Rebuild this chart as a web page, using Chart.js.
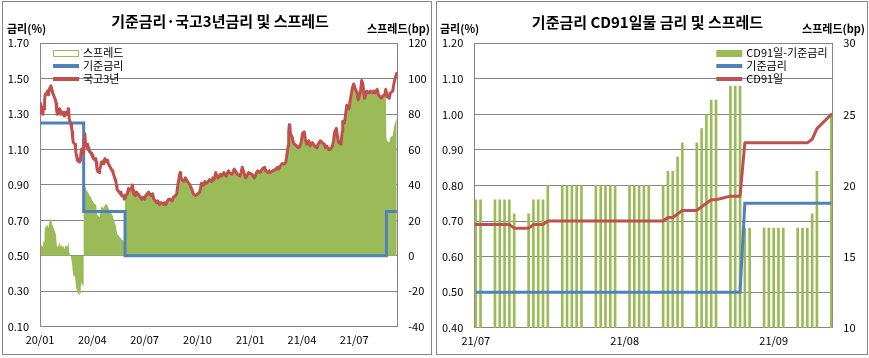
<!DOCTYPE html>
<html><head><meta charset="utf-8">
<script src="https://cdn.jsdelivr.net/npm/chart.js"></script>
<style>
html,body{margin:0;padding:0;background:#fff;}
#wrap{position:relative;width:869px;height:358px;overflow:hidden;background:#fff;}
.box{position:absolute;top:1px;border:1px solid #868686;background:#fff;}
#boxL{left:2px;width:428px;height:352px;}
#boxR{left:436px;width:430px;height:352px;}
canvas{display:block;}
</style></head><body>
<div id="wrap">
<div class="box" id="boxL"><canvas id="cL" width="428" height="352"></canvas></div>
<div class="box" id="boxR"><canvas id="cR" width="430" height="352"></canvas></div>
</div>
<script>
// ---------------- texts ----------------
const leftTitle = '기준금리·국고3년금리 및 스프레드';
const rightTitle = '기준금리 CD91일물 금리 및 스프레드';
const axisTitleLeft = '금리(%)';
const axisTitleRight = '스프레드(bp)';
const leftSeriesNames = ['스프레드', '기준금리', '국고3년'];
const rightSeriesNames = ['CD91일-기준금리', '기준금리', 'CD91일'];

// ---------------- left chart data ----------------
const ktbDates = [
'2020-01-02','2020-01-03','2020-01-06','2020-01-07','2020-01-08','2020-01-09','2020-01-10','2020-01-13','2020-01-14','2020-01-15','2020-01-16','2020-01-17','2020-01-20','2020-01-21','2020-01-22','2020-01-23','2020-01-28','2020-01-29','2020-01-30','2020-01-31',
'2020-02-03','2020-02-04','2020-02-05','2020-02-06','2020-02-07','2020-02-10','2020-02-11','2020-02-12','2020-02-13','2020-02-14','2020-02-17','2020-02-18','2020-02-19','2020-02-20','2020-02-21','2020-02-24','2020-02-25','2020-02-26','2020-02-27','2020-02-28',
'2020-03-02','2020-03-03','2020-03-04','2020-03-05','2020-03-06','2020-03-09','2020-03-10','2020-03-11','2020-03-12','2020-03-13','2020-03-16','2020-03-17','2020-03-18','2020-03-19','2020-03-20','2020-03-23','2020-03-24','2020-03-25','2020-03-26','2020-03-27','2020-03-30','2020-03-31',
'2020-04-01','2020-04-02','2020-04-03','2020-04-06','2020-04-07','2020-04-08','2020-04-09','2020-04-10','2020-04-13','2020-04-14','2020-04-16','2020-04-17','2020-04-20','2020-04-21','2020-04-22','2020-04-23','2020-04-24','2020-04-27','2020-04-28','2020-04-29',
'2020-05-04','2020-05-06','2020-05-07','2020-05-08','2020-05-11','2020-05-12','2020-05-13','2020-05-14','2020-05-15','2020-05-18','2020-05-19','2020-05-20','2020-05-21','2020-05-22','2020-05-25','2020-05-26','2020-05-27','2020-05-28','2020-05-29',
'2020-06-01','2020-06-03','2020-06-05','2020-06-08','2020-06-10','2020-06-11','2020-06-12','2020-06-15','2020-06-17','2020-06-19','2020-06-22','2020-06-24','2020-06-26','2020-06-29',
'2020-07-01','2020-07-03','2020-07-06','2020-07-08','2020-07-10','2020-07-13','2020-07-15','2020-07-17','2020-07-20','2020-07-22','2020-07-24','2020-07-27','2020-07-29','2020-07-31',
'2020-08-03','2020-08-05','2020-08-07','2020-08-10','2020-08-12','2020-08-14','2020-08-18','2020-08-20','2020-08-24','2020-08-26','2020-08-28','2020-08-31',
'2020-09-01','2020-09-02','2020-09-04','2020-09-08','2020-09-10','2020-09-14','2020-09-16','2020-09-18','2020-09-22','2020-09-24','2020-09-28',
'2020-10-05','2020-10-07','2020-10-08','2020-10-12','2020-10-14','2020-10-16','2020-10-20','2020-10-22','2020-10-26','2020-10-28','2020-10-30',
'2020-11-02','2020-11-04','2020-11-06','2020-11-10','2020-11-12','2020-11-16','2020-11-18','2020-11-20','2020-11-24','2020-11-26','2020-11-30',
'2020-12-02','2020-12-04','2020-12-08','2020-12-10','2020-12-14','2020-12-16','2020-12-18','2020-12-22','2020-12-24','2020-12-29',
'2021-01-04','2021-01-06','2021-01-08','2021-01-12','2021-01-14','2021-01-18','2021-01-20','2021-01-22','2021-01-26','2021-01-28',
'2021-02-01','2021-02-03','2021-02-05','2021-02-09','2021-02-15','2021-02-17','2021-02-19','2021-02-23','2021-02-25',
'2021-03-02','2021-03-04','2021-03-08','2021-03-09','2021-03-10','2021-03-11','2021-03-12','2021-03-15','2021-03-17','2021-03-19','2021-03-23','2021-03-25','2021-03-29','2021-03-31',
'2021-04-02','2021-04-05','2021-04-07','2021-04-09','2021-04-13','2021-04-15','2021-04-19','2021-04-21','2021-04-23','2021-04-27','2021-04-29',
'2021-05-03','2021-05-06','2021-05-10','2021-05-12','2021-05-14','2021-05-18','2021-05-20','2021-05-24','2021-05-26','2021-05-28','2021-05-31',
'2021-06-02','2021-06-04','2021-06-08','2021-06-10','2021-06-11','2021-06-14','2021-06-16','2021-06-18','2021-06-22','2021-06-24','2021-06-28','2021-06-30',
'2021-07-02','2021-07-06','2021-07-08','2021-07-12','2021-07-14','2021-07-16','2021-07-19','2021-07-21','2021-07-23','2021-07-27','2021-07-29',
'2021-08-02','2021-08-04','2021-08-06','2021-08-10','2021-08-12','2021-08-17','2021-08-19','2021-08-23','2021-08-25','2021-08-26','2021-08-27','2021-08-31',
'2021-09-02','2021-09-06','2021-09-08','2021-09-10','2021-09-13'
];
const ktb3y = [
1.36,1.31,1.30,1.34,1.33,1.38,1.41,1.42,1.43,1.41,1.42,1.44,1.46,1.45,1.43,1.42,1.38,1.36,1.32,1.30,
1.31,1.33,1.32,1.30,1.31,1.30,1.31,1.29,1.30,1.31,1.30,1.31,1.33,1.31,1.27,1.24,1.22,1.20,1.16,1.14,
1.13,1.10,1.07,1.06,1.04,1.03,1.05,1.04,1.07,1.10,1.08,1.12,1.16,1.19,1.14,1.11,1.13,1.10,1.11,1.09,1.08,1.07,
1.06,1.07,1.05,1.04,1.05,1.03,1.00,0.98,0.97,0.99,1.01,1.03,1.02,1.04,1.03,1.05,1.04,1.04,1.03,1.02,
0.99,0.98,0.97,0.96,0.93,0.92,0.90,0.88,0.87,0.86,0.86,0.85,0.86,0.84,0.84,0.83,0.82,0.83,0.84,
0.85,0.88,0.87,0.88,0.90,0.87,0.85,0.84,0.86,0.85,0.84,0.83,0.82,0.83,
0.82,0.84,0.85,0.86,0.85,0.84,0.85,0.82,0.81,0.80,0.81,0.79,0.80,0.80,
0.79,0.80,0.79,0.81,0.82,0.82,0.81,0.83,0.84,0.85,0.90,0.96,
0.97,0.95,0.93,0.92,0.94,0.92,0.91,0.90,0.87,0.85,0.84,
0.86,0.89,0.91,0.90,0.92,0.91,0.92,0.93,0.92,0.94,0.93,
0.97,0.95,0.94,0.96,0.95,0.97,0.96,0.95,0.98,0.97,0.96,
0.97,0.99,0.97,0.96,0.95,0.97,1.00,0.96,0.94,0.97,
0.96,0.95,0.94,0.97,0.98,0.97,0.98,0.99,1.00,0.98,
0.97,0.98,0.97,0.98,0.99,1.00,0.99,1.01,1.02,
1.02,1.03,1.12,1.20,1.24,1.23,1.19,1.17,1.14,1.13,1.12,1.11,1.12,1.15,
1.19,1.20,1.16,1.13,1.15,1.12,1.14,1.13,1.12,1.11,1.13,
1.15,1.14,1.13,1.11,1.12,1.10,1.10,1.12,1.15,1.20,1.22,
1.17,1.14,1.13,1.20,1.26,1.25,1.30,1.35,1.33,1.38,1.45,1.47,
1.45,1.42,1.38,1.43,1.49,1.47,1.39,1.41,1.43,1.42,1.43,
1.42,1.43,1.42,1.44,1.41,1.39,1.40,1.41,1.44,1.42,1.40,1.39,
1.42,1.43,1.47,1.50,1.53
];
const ktbSpreadBp = [
11,6,5,9,8,13,16,17,18,16,17,19,21,20,18,17,13,11,7,5,
6,8,7,5,6,5,6,4,5,6,5,6,8,6,2,-1,-3,-5,-9,-11,
-12,-15,-18,-19,-21,-22,-20,-21,-18,-15,-17,37,41,44,39,36,38,35,36,34,33,32,
31,32,30,29,30,28,25,23,22,24,26,28,27,29,28,30,29,29,28,27,
24,23,22,21,18,17,15,13,12,11,11,10,11,9,9,8,7,33,34,
35,38,37,38,40,37,35,34,36,35,34,33,32,33,
32,34,35,36,35,34,35,32,31,30,31,29,30,30,
29,30,29,31,32,32,31,33,34,35,40,46,
47,45,43,42,44,42,41,40,37,35,34,
36,39,41,40,42,41,42,43,42,44,43,
47,45,44,46,45,47,46,45,48,47,46,
47,49,47,46,45,47,50,46,44,47,
46,45,44,47,48,47,48,49,50,48,
47,48,47,48,49,50,49,51,52,
52,53,62,70,74,73,69,67,64,63,62,61,62,65,
69,70,66,63,65,62,64,63,62,61,63,
65,64,63,61,62,60,60,62,65,70,72,
67,64,63,70,76,75,80,85,83,88,95,97,
95,92,88,93,99,97,89,91,93,92,93,
92,93,92,94,91,89,90,91,94,67,65,64,
67,68,72,75,78
];
const baseDatesL = ['2020-01-02','2020-03-17','2020-05-28','2021-08-26','2021-09-13'];
const baseRatesL = [1.25, 0.75, 0.50, 0.75, 0.75];
const leftXTickDates = ['2020-01-01','2020-04-01','2020-07-01','2020-10-01','2021-01-01','2021-04-01','2021-07-01'];
const leftXTickLabels = ['20/01','20/04','20/07','20/10','21/01','21/04','21/07'];
const leftYTicks = [0.10,0.30,0.50,0.70,0.90,1.10,1.30,1.50,1.70];
const leftY2Ticks = [-40,-20,0,20,40,60,80,100,120];

// ---------------- right chart data ----------------
const cdDates = [
'2021-07-01','2021-07-02','2021-07-05','2021-07-06','2021-07-07','2021-07-08','2021-07-09','2021-07-12','2021-07-13','2021-07-14','2021-07-15','2021-07-16','2021-07-19','2021-07-20','2021-07-21','2021-07-22','2021-07-23','2021-07-26','2021-07-27','2021-07-28','2021-07-29','2021-07-30',
'2021-08-02','2021-08-03','2021-08-04','2021-08-05','2021-08-06','2021-08-09','2021-08-10','2021-08-11','2021-08-12','2021-08-13','2021-08-16','2021-08-17','2021-08-18','2021-08-19','2021-08-20','2021-08-23','2021-08-24','2021-08-25','2021-08-26','2021-08-27','2021-08-30','2021-08-31',
'2021-09-01','2021-09-02','2021-09-03','2021-09-06','2021-09-07','2021-09-08','2021-09-09','2021-09-10','2021-09-13'
];
const cd91 = [
0.69,0.69,0.69,0.69,0.69,0.69,0.68,0.68,0.69,0.69,0.69,0.70,0.70,0.70,0.70,0.70,0.70,0.70,0.70,0.70,0.70,0.70,
0.70,0.70,0.70,0.70,0.70,0.70,0.71,0.71,0.72,0.73,0.73,0.74,0.75,0.76,0.76,0.77,0.77,0.77,0.92,0.92,0.92,0.92,
0.92,0.92,0.92,0.92,0.92,0.92,0.93,0.96,1.00
];
const baseRatesR = [
0.50,0.50,0.50,0.50,0.50,0.50,0.50,0.50,0.50,0.50,0.50,0.50,0.50,0.50,0.50,0.50,0.50,0.50,0.50,0.50,0.50,0.50,
0.50,0.50,0.50,0.50,0.50,0.50,0.50,0.50,0.50,0.50,0.50,0.50,0.50,0.50,0.50,0.50,0.50,0.50,0.75,0.75,0.75,0.75,
0.75,0.75,0.75,0.75,0.75,0.75,0.75,0.75,0.75
];
const cdSpreadBp = [
19,19,19,19,19,19,18,18,19,19,19,20,20,20,20,20,20,20,20,20,20,20,
20,20,20,20,20,20,21,21,22,23,23,24,25,26,26,27,27,27,17,17,17,17,
17,17,17,17,17,17,18,21,25
];
const rightXTickDates = ['2021-07-01','2021-08-01','2021-09-01'];
const rightXTickLabels = ['21/07','21/08','21/09'];
const rightYTicks = [0.40,0.50,0.60,0.70,0.80,0.90,1.00,1.10,1.20];
const rightY2Ticks = [10,15,20,25,30];

// ---------------- helpers ----------------
const MS_DAY = 86400000;
const dayFrom = (origin) => (s) => (Date.parse(s) - Date.parse(origin)) / MS_DAY;
const dayL = dayFrom('2020-01-01');
const dayR = dayFrom('2021-07-01');
const pts = (dates, vals, f) => dates.map((d, i) => ({x: f(d), y: vals[i]}));

const GREEN = '#9BBB59', BLUE = '#4F81BD', RED = '#C0504D', GRID = '#868686';
const FONT = '"Noto Sans CJK KR", "Noto Sans", sans-serif';
Chart.defaults.font.family = FONT;
Chart.defaults.font.size = 11;
Chart.defaults.color = '#000';

function decor(cfg) {
  return {
    id: 'decor',
    afterDraw(chart) {
      const ctx = chart.ctx, a = chart.chartArea;
      ctx.save();
      ctx.fillStyle = '#000';
      ctx.textBaseline = 'middle';
      ctx.font = 'bold 15px ' + FONT;
      ctx.textAlign = 'center';
      ctx.fillText(cfg.title, cfg.titleX, cfg.titleY);
      ctx.font = 'bold 11px ' + FONT;
      ctx.textAlign = 'left';
      ctx.fillText(axisTitleLeft, cfg.axisLX, 27);
      ctx.textAlign = 'right';
      ctx.fillText(axisTitleRight, chart.width - cfg.axisRPad, 27);
      ctx.font = '11px ' + FONT;
      ctx.textAlign = 'left';
      const x = cfg.legendX(a);
      cfg.legend.forEach((it, i) => {
        const y = Math.round(a.top + 10 + i * 13);
        if (it.kind === 'area') {
          ctx.fillStyle = '#fff'; ctx.fillRect(x, y - 3, 25, 6);
          ctx.strokeStyle = it.color; ctx.lineWidth = 1; ctx.strokeRect(x + 0.5, y - 2.5, 25, 6);
        } else if (it.kind === 'bar') {
          ctx.fillStyle = it.color; ctx.fillRect(x, y - 3, 26, 7);
        } else {
          ctx.strokeStyle = it.color; ctx.lineWidth = 4;
          ctx.beginPath(); ctx.moveTo(x, y); ctx.lineTo(x + 26, y); ctx.stroke();
        }
        ctx.fillStyle = '#000';
        ctx.fillText(it.label, x + 30, y);
      });
      ctx.restore();
    }
  };
}

const fixedTicks = (arr) => (s) => { s.ticks = arr.map(v => ({value: v})); };

// ---------------- left chart ----------------
new Chart(document.getElementById('cL'), {
  type: 'line',
  data: { datasets: [
    { label: leftSeriesNames[2], data: pts(ktbDates, ktb3y, dayL), yAxisID: 'y',
      borderColor: RED, borderWidth: 3, pointRadius: 0, fill: false, order: 1,
      borderJoinStyle: 'round', borderCapStyle: 'round', tension: 0 },
    { label: leftSeriesNames[1], data: pts(baseDatesL, baseRatesL, dayL), yAxisID: 'y',
      borderColor: BLUE, borderWidth: 3, pointRadius: 0, fill: false, order: 2, stepped: 'before' },
    { label: leftSeriesNames[0], data: pts(ktbDates, ktbSpreadBp, dayL), yAxisID: 'y2',
      borderWidth: 0, borderColor: GREEN, backgroundColor: GREEN, pointRadius: 0, fill: 'origin', order: 3, tension: 0 }
  ]},
  options: {
    responsive: false, animation: false, devicePixelRatio: 1,
    layout: { padding: { top: 41.3, left: 0, right: 0, bottom: 0 } },
    plugins: { legend: { display: false }, title: { display: false }, tooltip: { enabled: false } },
    scales: {
      x: { type: 'linear', min: 0, max: 622,
        afterFit: s => { s.height = 27.3; },
        afterBuildTicks: fixedTicks(leftXTickDates.map(dayL)),
        ticks: { callback: (v, i) => leftXTickLabels[i], autoSkip: false, maxRotation: 0, padding: 7 },
        grid: { display: false, drawTicks: false }, border: { display: true, color: GRID } },
      y: { position: 'left', min: 0.10, max: 1.70,
        afterFit: s => { s.width = 37; },
        afterBuildTicks: fixedTicks(leftYTicks),
        ticks: { callback: v => v.toFixed(2), padding: 11 },
        grid: { color: GRID, drawTicks: false }, border: { color: GRID } },
      y2: { position: 'right', min: -40, max: 120,
        afterFit: s => { s.width = 33.7; },
        afterBuildTicks: fixedTicks(leftY2Ticks),
        ticks: { padding: 11 },
        grid: { display: false, drawTicks: false }, border: { color: GRID } }
    }
  },
  plugins: [decor({
    title: leftTitle, titleX: 217, titleY: 19.7, axisLX: 4, axisRPad: 1,
    legendX: a => a.left + 13,
    legend: [
      { kind: 'area', color: GREEN, label: leftSeriesNames[0] },
      { kind: 'line', color: BLUE, label: leftSeriesNames[1] },
      { kind: 'line', color: RED, label: leftSeriesNames[2] }
    ]
  })]
});

// ---------------- right chart ----------------
new Chart(document.getElementById('cR'), {
  type: 'bar',
  data: { datasets: [
    { type: 'line', label: rightSeriesNames[2], data: pts(cdDates, cd91, dayR), yAxisID: 'y',
      borderColor: RED, borderWidth: 3, pointRadius: 0, fill: false, order: 1,
      borderJoinStyle: 'round', borderCapStyle: 'round', tension: 0 },
    { type: 'line', label: rightSeriesNames[1], data: pts(cdDates, baseRatesR, dayR), yAxisID: 'y',
      borderColor: BLUE, borderWidth: 3, pointRadius: 0, fill: false, order: 2, tension: 0 },
    { type: 'bar', label: rightSeriesNames[0], data: pts(cdDates, cdSpreadBp, dayR), yAxisID: 'y2',
      backgroundColor: GREEN, borderWidth: 0, barThickness: 2, order: 3 }
  ]},
  options: {
    responsive: false, animation: false, devicePixelRatio: 1,
    layout: { padding: { top: 41.3, left: 0, right: 0, bottom: 0 } },
    plugins: { legend: { display: false }, title: { display: false }, tooltip: { enabled: false } },
    scales: {
      x: { type: 'linear', min: -0.3, max: 74.2, offset: false,
        afterFit: s => { s.height = 26.3; },
        afterBuildTicks: fixedTicks(rightXTickDates.map(dayR)),
        ticks: { callback: (v, i) => rightXTickLabels[i], autoSkip: false, maxRotation: 0, padding: 7 },
        grid: { display: false, drawTicks: false }, border: { display: true, color: GRID } },
      y: { position: 'left', min: 0.40, max: 1.20,
        afterFit: s => { s.width = 37.3; },
        afterBuildTicks: fixedTicks(rightYTicks),
        ticks: { callback: v => v.toFixed(2), padding: 11 },
        grid: { color: GRID, drawTicks: false }, border: { color: GRID } },
      y2: { position: 'right', min: 10, max: 30,
        afterFit: s => { s.width = 34.7; },
        afterBuildTicks: fixedTicks(rightY2Ticks),
        ticks: { padding: 11 },
        grid: { display: false, drawTicks: false }, border: { color: GRID } }
    }
  },
  plugins: [decor({
    title: rightTitle, titleX: 210.5, titleY: 20, axisLX: 3, axisRPad: 2,
    legendX: a => a.right - 116,
    legend: [
      { kind: 'bar', color: GREEN, label: rightSeriesNames[0] },
      { kind: 'line', color: BLUE, label: rightSeriesNames[1] },
      { kind: 'line', color: RED, label: rightSeriesNames[2] }
    ]
  })]
});
</script>
</body></html>
